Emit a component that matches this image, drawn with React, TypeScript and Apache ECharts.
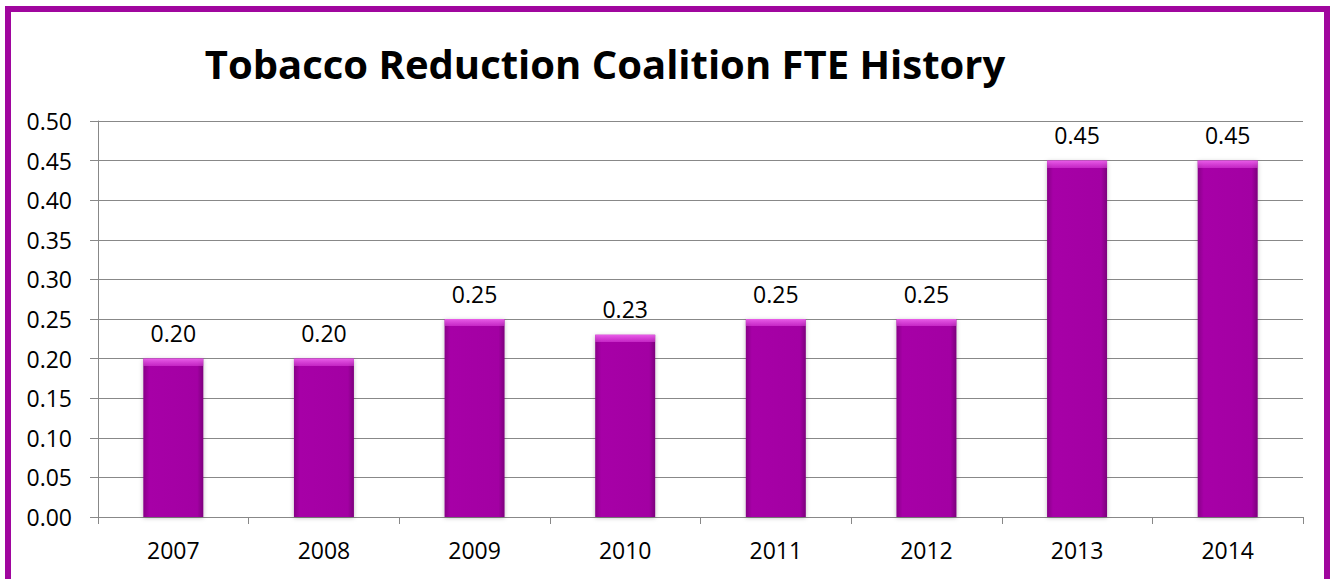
import React, { useEffect, useRef } from "react";
import * as echarts from "echarts";

const titleText = "Tobacco Reduction Coalition FTE History";
const years = ["2007", "2008", "2009", "2010", "2011", "2012", "2013", "2014"];
const fte = [0.2, 0.2, 0.25, 0.23, 0.25, 0.25, 0.45, 0.45];

export default function App() {
  const ref = useRef<HTMLDivElement>(null);
  useEffect(() => {
    document.body.style.margin = "0";
    const chart = echarts.init(ref.current!, null, { renderer: "svg" });
    const font = "Open Sans";
    const pxPerUnit = 396 / 0.5;
    const bevel = fte.map((v) => {
      const h = v * pxPerUnit;
      const o = Math.min(0.99, 7 / h);
      return {
        value: v,
        itemStyle: {
          color: new echarts.graphic.LinearGradient(0, 0, 0, 1, [
            { offset: 0, color: "rgba(245,110,245,0.85)" },
            { offset: o, color: "rgba(230,80,230,0.5)" },
            { offset: Math.min(1, o + 0.001), color: "rgba(230,80,230,0)" },
            { offset: 1, color: "rgba(230,80,230,0)" },
          ]),
        },
      };
    });
    chart.setOption({
      animation: false,
      backgroundColor: "#ffffff",
      title: {
        text: titleText,
        left: 600,
        top: 38,
        textAlign: "center",
        textStyle: { fontFamily: font, fontWeight: "bold", fontSize: 40, color: "#000" },
      },
      graphic: [
        {
          type: "rect",
          shape: { x: 8, y: 9, width: 1319, height: 590 },
          style: { fill: "none", stroke: "#A0069E", lineWidth: 6 },
          silent: true,
          z: 100,
        },
      ],
      grid: { left: 98, right: 27, top: 121, bottom: 62, containLabel: false },
      xAxis: {
        type: "category",
        data: years,
        boundaryGap: true,
        axisLine: { lineStyle: { color: "#888888", width: 1 } },
        axisTick: { show: true, alignWithLabel: false, length: 7, lineStyle: { color: "#888888" } },
        axisLabel: { fontFamily: font, fontSize: 23, color: "#000", margin: 21 },
      },
      yAxis: {
        type: "value",
        min: 0,
        max: 0.5,
        interval: 0.05,
        axisLine: { show: true, lineStyle: { color: "#888888", width: 1 } },
        axisTick: { show: true, length: 8, lineStyle: { color: "#888888" } },
        splitLine: { show: true, lineStyle: { color: "#888888", width: 1 } },
        axisLabel: {
          fontFamily: font,
          fontSize: 23,
          color: "#000",
          margin: 26,
          formatter: (v: number) => v.toFixed(2),
        },
      },
      series: [
        {
          type: "bar",
          data: fte,
          barWidth: 60,
          itemStyle: {
            color: new echarts.graphic.LinearGradient(1, 0, 0, 0, [
              { offset: 0, color: "#7c007c" },
              { offset: 0.1, color: "#a300a3" },
              { offset: 0.9, color: "#a700a7" },
              { offset: 1, color: "#880088" },
            ]),
            shadowColor: "rgba(0,0,0,0.25)",
            shadowBlur: 4,
            shadowOffsetY: 1,
          },
          label: {
            show: true,
            position: "top",
            distance: 14,
            fontFamily: font,
            fontSize: 23,
            color: "#000",
            formatter: (p: any) => Number(p.value).toFixed(2),
          },
        },
        {
          type: "bar",
          data: bevel,
          barWidth: 60,
          barGap: "-100%",
          silent: true,
          z: 3,
        },
      ],
    });
    return () => chart.dispose();
  }, []);
  return <div ref={ref} style={{ width: 1330, height: 579 }} />;
}
